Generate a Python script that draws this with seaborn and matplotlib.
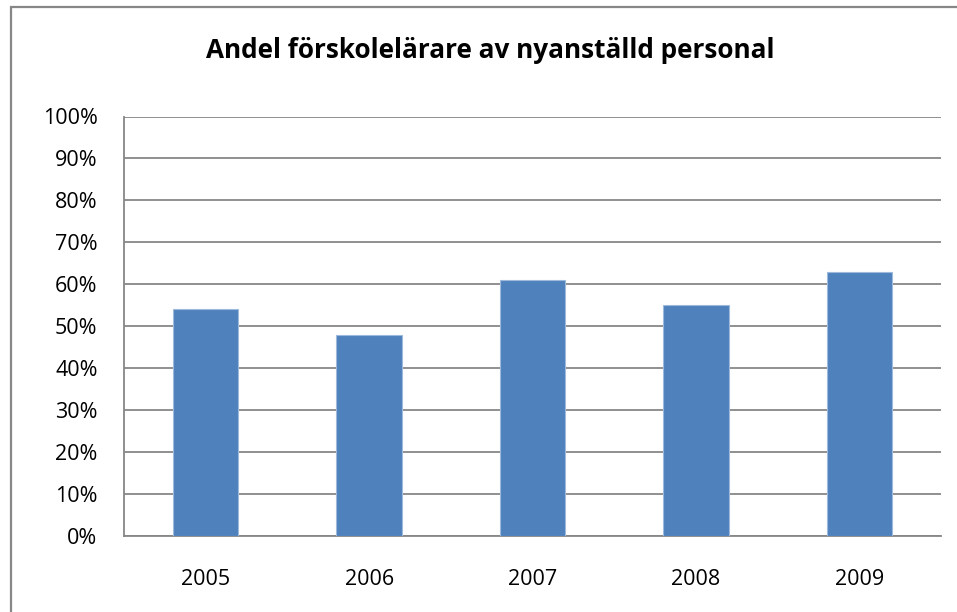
import numpy as np
import pandas as pd
import matplotlib
matplotlib.use("Agg")
import matplotlib.pyplot as plt
import seaborn as sns
from matplotlib.patches import Rectangle
from matplotlib.ticker import PercentFormatter

years = ["2005", "2006", "2007", "2008", "2009"]
andel = [0.54, 0.48, 0.61, 0.55, 0.63]
y_ticks = [0.0, 0.1, 0.2, 0.3, 0.4, 0.5, 0.6, 0.7, 0.8, 0.9, 1.0]
title = "Andel förskolelärare av nyanställd personal"

df = pd.DataFrame({"year": years, "andel": andel})

sns.set_style("white")
plt.rcParams["font.family"] = ["Open Sans", "DejaVu Sans"]
plt.rcParams["text.color"] = "black"
plt.rcParams["xtick.labelcolor"] = "black"
plt.rcParams["ytick.labelcolor"] = "black"

grey = "#878787"
fig = plt.figure(figsize=(9.57, 6.12), dpi=100)
ax = fig.add_axes([124 / 957, 1 - 536 / 612, (941 - 124) / 957, (536 - 116.5) / 612])

sns.barplot(data=df, x="year", y="andel", color="#4F81BD", width=0.4,
            saturation=1, edgecolor="#9DB9DC", linewidth=0.8, ax=ax, zorder=3)

ax.set_ylim(0, 1)
ax.set_xlim(-0.5, len(years) - 0.5)
ax.set_yticks(y_ticks)
ax.yaxis.set_major_formatter(PercentFormatter(1.0, decimals=0))
ax.grid(axis="y", color=grey, linewidth=1.3, zorder=0)
ax.set_axisbelow(True)

# tick marks between categories, labels in the middle
ax.set_xticks(np.arange(-0.5, len(years), 1.0))
ax.set_xticklabels([])
ax.set_xticks(range(len(years)), minor=True)
ax.set_xticklabels(years, minor=True)
ax.tick_params(axis="x", which="major", length=8, width=1.3, color=grey, direction="out")
ax.tick_params(axis="x", which="minor", length=0, pad=24, labelsize=15.5, labelcolor="black")
ax.tick_params(axis="y", length=8, width=1.3, color=grey, direction="out", pad=11,
               labelsize=15.5, labelcolor="black")

ax.set_xlabel("")
ax.set_ylabel("")
for s in ["top", "right"]:
    ax.spines[s].set_visible(False)
for s in ["left", "bottom"]:
    ax.spines[s].set_color(grey)
    ax.spines[s].set_linewidth(1.3)

fig.text(490 / 957, 1 - 51 / 612, title, ha="center", va="center",
         fontsize=18.8, fontweight="bold", color="black")

# outer chart frame (cut off on the right and bottom)
fig.patches.append(Rectangle((10.5 / 957, -0.1), 1.2, 1.1 - 6.5 / 612,
                             transform=fig.transFigure, fill=False,
                             edgecolor=grey, linewidth=1.6))

fig.savefig("out.png", dpi=100)
